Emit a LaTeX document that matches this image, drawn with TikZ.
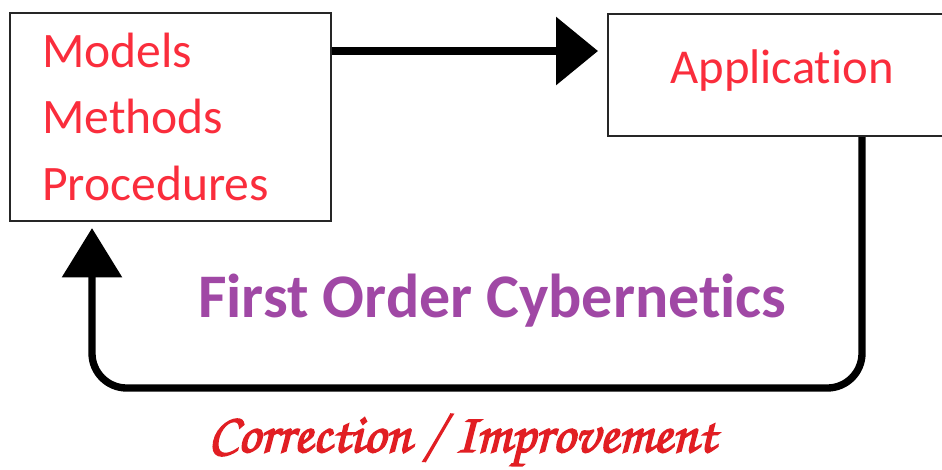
\documentclass[tikz,border=0pt]{standalone}
\usepackage{fontspec}
\setmainfont[Ligatures=NoCommon]{Carlito}
\usetikzlibrary{arrows.meta}
\definecolor{labelred}{RGB}{250,45,60}
\definecolor{titlepurple}{RGB}{160,72,165}
\definecolor{scriptred}{RGB}{225,30,35}
\tikzset{
  boxnode/.style={draw=black!85, line width=1.6pt, fill=white, inner sep=0pt},
  redlabel/.style={text=labelred, font=\fontsize{37.2}{44}\selectfont, anchor=base west, inner sep=0pt},
  flow/.style={line width=6pt, -{Triangle[length=31.5pt,width=50pt]}},
  feedback/.style={line width=5.5pt, rounded corners=26pt, -{Triangle[length=37pt,width=44pt]}},
}
\begin{document}
\begin{tikzpicture}[x=0.75pt,y=-0.75pt]
  % canvas
  \useasboundingbox[fill=white] (0,0) rectangle (942,469);

  % boxes
  \node[boxnode, minimum width=240.75pt, minimum height=156pt] (mmp) at (170.5,117) {};
  \node[boxnode, minimum width=300pt, minimum height=91.5pt, anchor=north west] (app) at (607,13) {};

  % box texts
  \node[redlabel] (models) at (42,67) {Models};
  \node[redlabel] (methods) at (42,133) {Methods};
  \node[redlabel] (procedures) at (42,200) {Procedures};
  \node[redlabel, font=\fontsize{36.5}{44}\selectfont] (application) at (670,83) {Application};

  % forward arrow
  \draw[flow, shorten >=6.75pt] (mmp.east |- 0,51) -- (app.west |- 0,51);

  % feedback loop
  \coordinate (rdrop) at (862,0);
  \coordinate (lrise) at (92,0);
  \coordinate (loopy) at (0,388);
  \draw[feedback, shorten >=4.5pt] (app.south -| rdrop) -- (rdrop |- loopy) -- (lrise |- loopy) -- (mmp.south -| lrise);

  % titles
  \node[text=titlepurple, font=\bfseries\fontsize{46.5}{52}\selectfont, anchor=base west, inner sep=0pt] (title) at (198,317) {First Order Cybernetics};
  \node[text=scriptred, font={\fontencoding{T1}\fontfamily{pzc}\fontseries{mb}\fontshape{it}\fontsize{42}{48}\selectfont}, anchor=base west, inner sep=0pt] (caption) at (208,452)
    {\special{pdf:literal direct 2 Tr 1.1 w}Correction / Improvement\special{pdf:literal direct 0 Tr}};
\end{tikzpicture}
\end{document}
